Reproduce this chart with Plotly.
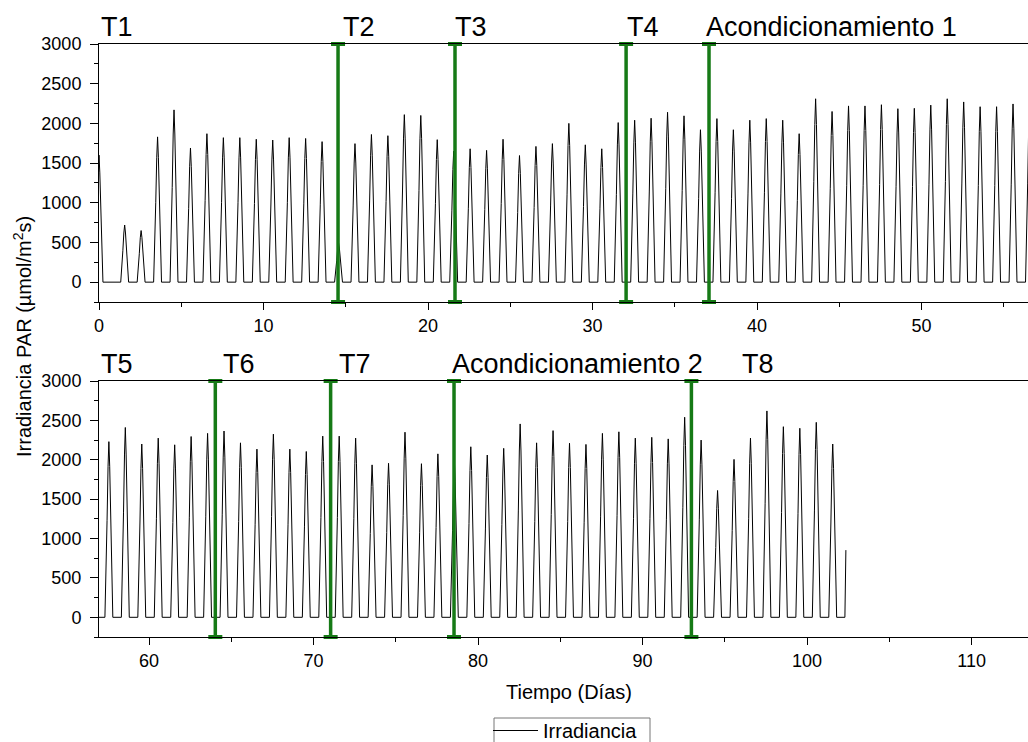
import plotly.graph_objects as go

# ---------------- data ----------------
# daily peak PAR irradiance (µmol/m²s), one value per day starting at day 0
PEAK_VALUES = [
    1600, 720, 650, 1830, 2170, 1690, 1870, 1820, 1820, 1800,
    1790, 1820, 1810, 1770, 500, 1745, 1860, 1845, 2110, 2100,
    1795, 1650, 1680, 1660, 1800, 1595, 1710, 1745, 2000, 1730,
    1680, 2010, 2040, 2065, 2140, 2095, 1920, 2060, 1920, 2040,
    2060, 2040, 1870, 2310, 2150, 2220, 2220, 2235, 2185, 2190,
    2230, 2310, 2270, 2210, 2210, 2245, 2250, 2230, 2410, 2200,
    2275, 2190, 2295, 2335, 2365, 2215, 2135, 2325, 2135, 2105,
    2300, 2300, 2275, 1935, 1955, 2350, 1950, 2075, 2000, 2165,
    2060, 2145, 2455, 2215, 2370, 2210, 2195, 2335, 2355, 2275,
    2285, 2265, 2540, 2250, 1610, 2005, 2275, 2620, 2420, 2400,
    2475, 2200,
]
NOON_OFFSET = 0.56          # time of day of the daily maximum (fraction of day)
FIRST_PEAK_TIME = 0.0       # the record starts right at the first maximum
# shape of one day's light curve (offset from the maximum in days, fraction of max)
DAY_OFFSETS = [-0.24, -0.18, -0.11, -0.05, 0.0, 0.05, 0.11, 0.18, 0.24]
DAY_FRACTION = [0.0, 0.2, 0.55, 0.86, 1.0, 0.86, 0.55, 0.2, 0.0]
# last, incomplete day of the record
TAIL_T = [102.30, 102.36]
TAIL_V = [0, 853]

# treatment boundaries (days)
TOP_BOUNDARIES = [14.53, 21.64, 32.04, 37.08]
BOTTOM_BOUNDARIES = [64.03, 71.04, 78.54, 92.97]

TOP_LABELS = ["T1", "T2", "T3", "T4", "Acondicionamiento 1"]
TOP_LABEL_X = [0.0, 14.7, 21.5, 31.95, 36.75]
BOTTOM_LABELS = ["T5", "T6", "T7", "Acondicionamiento 2", "T8"]
BOTTOM_LABEL_X = [56.97, 64.35, 71.4, 78.3, 95.95]

TOP_RANGE = [0, 56.47]
BOTTOM_RANGE = [56.96, 113.43]
Y_RANGE = [-250, 3000]

# ---------------- build the series ----------------
t, v = [], []
for day, peak in enumerate(PEAK_VALUES):
    center = FIRST_PEAK_TIME if day == 0 else day + NOON_OFFSET
    for off, frac in zip(DAY_OFFSETS, DAY_FRACTION):
        t.append(center + off)
        v.append(peak * frac)
t += TAIL_T
v += TAIL_V

FONT = "Liberation Sans, Arial, sans-serif"
GREEN = "rgb(22,122,22)"

fig = go.Figure()
fig.add_trace(go.Scatter(x=t, y=v, mode="lines", name="Irradiancia",
                         line=dict(color="black", width=1),
                         xaxis="x", yaxis="y", showlegend=True))
fig.add_trace(go.Scatter(x=t, y=v, mode="lines", name="Irradiancia",
                         line=dict(color="black", width=1),
                         xaxis="x2", yaxis="y2", showlegend=False))

for bounds, xa, ya in [(TOP_BOUNDARIES, "x", "y"), (BOTTOM_BOUNDARIES, "x2", "y2")]:
    for b in bounds:
        fig.add_trace(go.Scatter(
            x=[b, b], y=Y_RANGE, mode="lines+markers",
            line=dict(color=GREEN, width=3.5),
            marker=dict(symbol="line-ew", size=10, line=dict(color=GREEN, width=4)),
            cliponaxis=False, showlegend=False, xaxis=xa, yaxis=ya, hoverinfo="skip"))

W, H = 1028, 742
left = 99 / W

def xaxis(rng, anchor):
    return dict(domain=[left, 1.0], range=rng, anchor=anchor,
                showline=True, mirror=True, linecolor="black", linewidth=1,
                ticks="outside", ticklen=7, tickwidth=1, tickcolor="black",
                dtick=10, tick0=0,
                minor=dict(ticks="outside", ticklen=4, dtick=5, tick0=0, tickcolor="black"),
                showgrid=False, zeroline=False, automargin=False,
                tickfont=dict(family=FONT, size=18, color="black"))

def yaxis(dom, anchor):
    return dict(domain=dom, range=Y_RANGE, anchor=anchor,
                showline=True, mirror=False, linecolor="black", linewidth=1,
                ticks="outside", ticklen=8, tickwidth=1, tickcolor="black",
                dtick=500, tick0=0, ticklabelstandoff=5,
                minor=dict(ticks="outside", ticklen=4, dtick=250, tick0=0, tickcolor="black"),
                showgrid=False, zeroline=False, automargin=False,
                tickfont=dict(family=FONT, size=18, color="black"))

annotations = []
for lab, x in zip(TOP_LABELS, TOP_LABEL_X):
    annotations.append(dict(text=lab, x=x, xref="x", y=1 - 27 / H, yref="paper",
                            xanchor="left", yanchor="middle", showarrow=False,
                            font=dict(family=FONT, size=27, color="black")))
for lab, x in zip(BOTTOM_LABELS, BOTTOM_LABEL_X):
    annotations.append(dict(text=lab, x=x, xref="x2", y=1 - 364 / H, yref="paper",
                            xanchor="left", yanchor="middle", showarrow=False,
                            font=dict(family=FONT, size=27, color="black")))
annotations.append(dict(text="Irradiancia PAR (µmol/m<sup>2</sup>s)", x=22 / W, y=1 - 337 / H,
                        xref="paper", yref="paper", textangle=-90, showarrow=False,
                        xanchor="center", yanchor="middle",
                        font=dict(family=FONT, size=20, color="black")))
annotations.append(dict(text="Tiempo (Días)", x=569 / W, y=1 - 692 / H,
                        xref="paper", yref="paper", showarrow=False,
                        xanchor="center", yanchor="middle",
                        font=dict(family=FONT, size=20, color="black")))

# legend frame (the legend box runs past the bottom edge in the reference)
shapes = [dict(type="rect", xref="paper", yref="paper",
               x0=494 / W, x1=650 / W, y0=-0.05, y1=1 - 718 / H,
               line=dict(color="#777", width=1), fillcolor="rgba(0,0,0,0)", layer="above")]

fig.update_layout(
    width=W, height=H, margin=dict(l=0, r=0, t=0, b=0, autoexpand=False),
    paper_bgcolor="white", plot_bgcolor="white",
    xaxis=xaxis(TOP_RANGE, "y"), yaxis=yaxis([1 - 302 / H, 1 - 44 / H], "x"),
    xaxis2=xaxis(BOTTOM_RANGE, "y2"), yaxis2=yaxis([1 - 637 / H, 1 - 381 / H], "x2"),
    annotations=annotations, shapes=shapes,
    legend=dict(x=488 / W, y=1 - 711 / H, xanchor="left", yanchor="top",
                borderwidth=0, bgcolor="rgba(0,0,0,0)", itemwidth=45,
                font=dict(family=FONT, size=20, color="black")),
    showlegend=True,
)

fig.write_html("out.html")
